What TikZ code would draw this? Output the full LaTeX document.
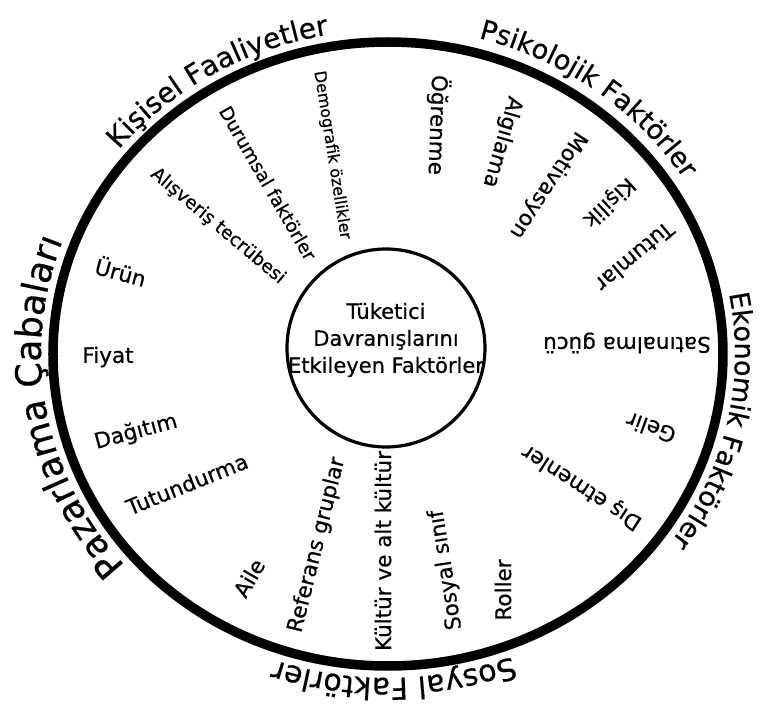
\documentclass[tikz,border=0pt]{standalone}
\usepackage{fontspec}
\setmainfont{DejaVu Sans}[RawFeature={embolden=0.6}]
\usetikzlibrary{decorations.text}
\begin{document}
\begin{tikzpicture}[x=1pt,y=1pt,
  item/.style={font=\fontsize{21.5}{25}\selectfont, inner sep=0pt},
  small item/.style={font=\fontsize{18.5}{22}\selectfont, inner sep=0pt},
  core text/.style={align=center, font=\fontsize{21}{27}\selectfont, inner sep=0pt}]
  \useasboundingbox (-388,-361) rectangle (376,354);
  \draw[line width=9.5pt] (0,0) ellipse [x radius=335pt, y radius=312pt];
  \node[circle, draw, line width=3.2pt, minimum size=198pt, inner sep=0pt] (core) at (-2,6) {};
  \node[core text] (title) at (-2,14) {Tüketici\\Davranışlarını\\Etkileyen Faktörler};
  \path[decorate, decoration={text along path, text align=center, text={|\fontsize{36}{38}\selectfont|Pazarlama Çabaları}}]
    (235:347pt and 324pt) arc[start angle=235, end angle=145, x radius=347pt, y radius=324pt];
  \path[decorate, decoration={text along path, text align=center, text={|\fontsize{28}{30}\selectfont|Kişisel Faaliyetler}}]
    (166:347pt and 324pt) arc[start angle=166, end angle=76, x radius=347pt, y radius=324pt];
  \path[decorate, decoration={text along path, text align=center, text={|\fontsize{27}{30}\selectfont|Psikolojik Faktörler}}]
    (98:350pt and 327pt) arc[start angle=98, end angle=8, x radius=350pt, y radius=327pt];
  \path[decorate, decoration={text along path, text align=center, text={|\fontsize{27}{30}\selectfont|Ekonomik Faktörler}}]
    (33:347pt and 324pt) arc[start angle=33, end angle=-57, x radius=347pt, y radius=324pt];
  \path[decorate, decoration={text along path, text align=center, text={|\fontsize{30}{32}\selectfont|Sosyal Faktörler}}]
    (316:347pt and 324pt) arc[start angle=316, end angle=226, x radius=347pt, y radius=324pt];
  \node[item, rotate=-92] (ogrenme) at (50,229) {Öğrenme};
  \node[item, rotate=-106] (algilama) at (114,212) {Algılama};
  \node[item, rotate=-123] (motivasyon) at (160,169) {Motivasyon};
  \node[item, rotate=-137] (kisilik) at (221,152) {Kişilik};
  \node[item, rotate=-140] (tutumlar) at (247,97) {Tutumlar};
  \node[item, rotate=180] (satinalma) at (239,11) {Satınalma gücü};
  \node[item, rotate=160] (gelir) at (263,-74) {Gelir};
  \node[item, rotate=147] (etmenler) at (194,-133) {Dış etmenler};
  \node[item, rotate=90] (roller) at (115,-236) {Roller};
  \node[item, rotate=99] (sinif) at (58,-216) {Sosyal sınıf};
  \node[item, rotate=90] (kultur) at (-5,-197) {Kültür ve alt kültür};
  \node[item, rotate=76] (referans) at (-71,-191) {Referans gruplar};
  \node[item, rotate=60] (aile) at (-139,-224) {Aile};
  \node[item, rotate=22] (tutundurma) at (-201,-130) {Tutundurma};
  \node[item, rotate=15] (dagitim) at (-252,-78) {Dağıtım};
  \node[item] (fiyat) at (-280,-3) {Fiyat};
  \node[item, rotate=-15] (urun) at (-267,83) {Ürün};
  \node[small item, rotate=-40] (alisveris) at (-170,128) {Alışveriş tecrübesi};
  \node[small item, rotate=-60] (durumsal) at (-120,171) {Durumsal faktörler};
  \node[small item, font=\fontsize{16}{19}\selectfont, rotate=-81] (demografik) at (-56,199) {Demografik özellikler};
\end{tikzpicture}
\end{document}
